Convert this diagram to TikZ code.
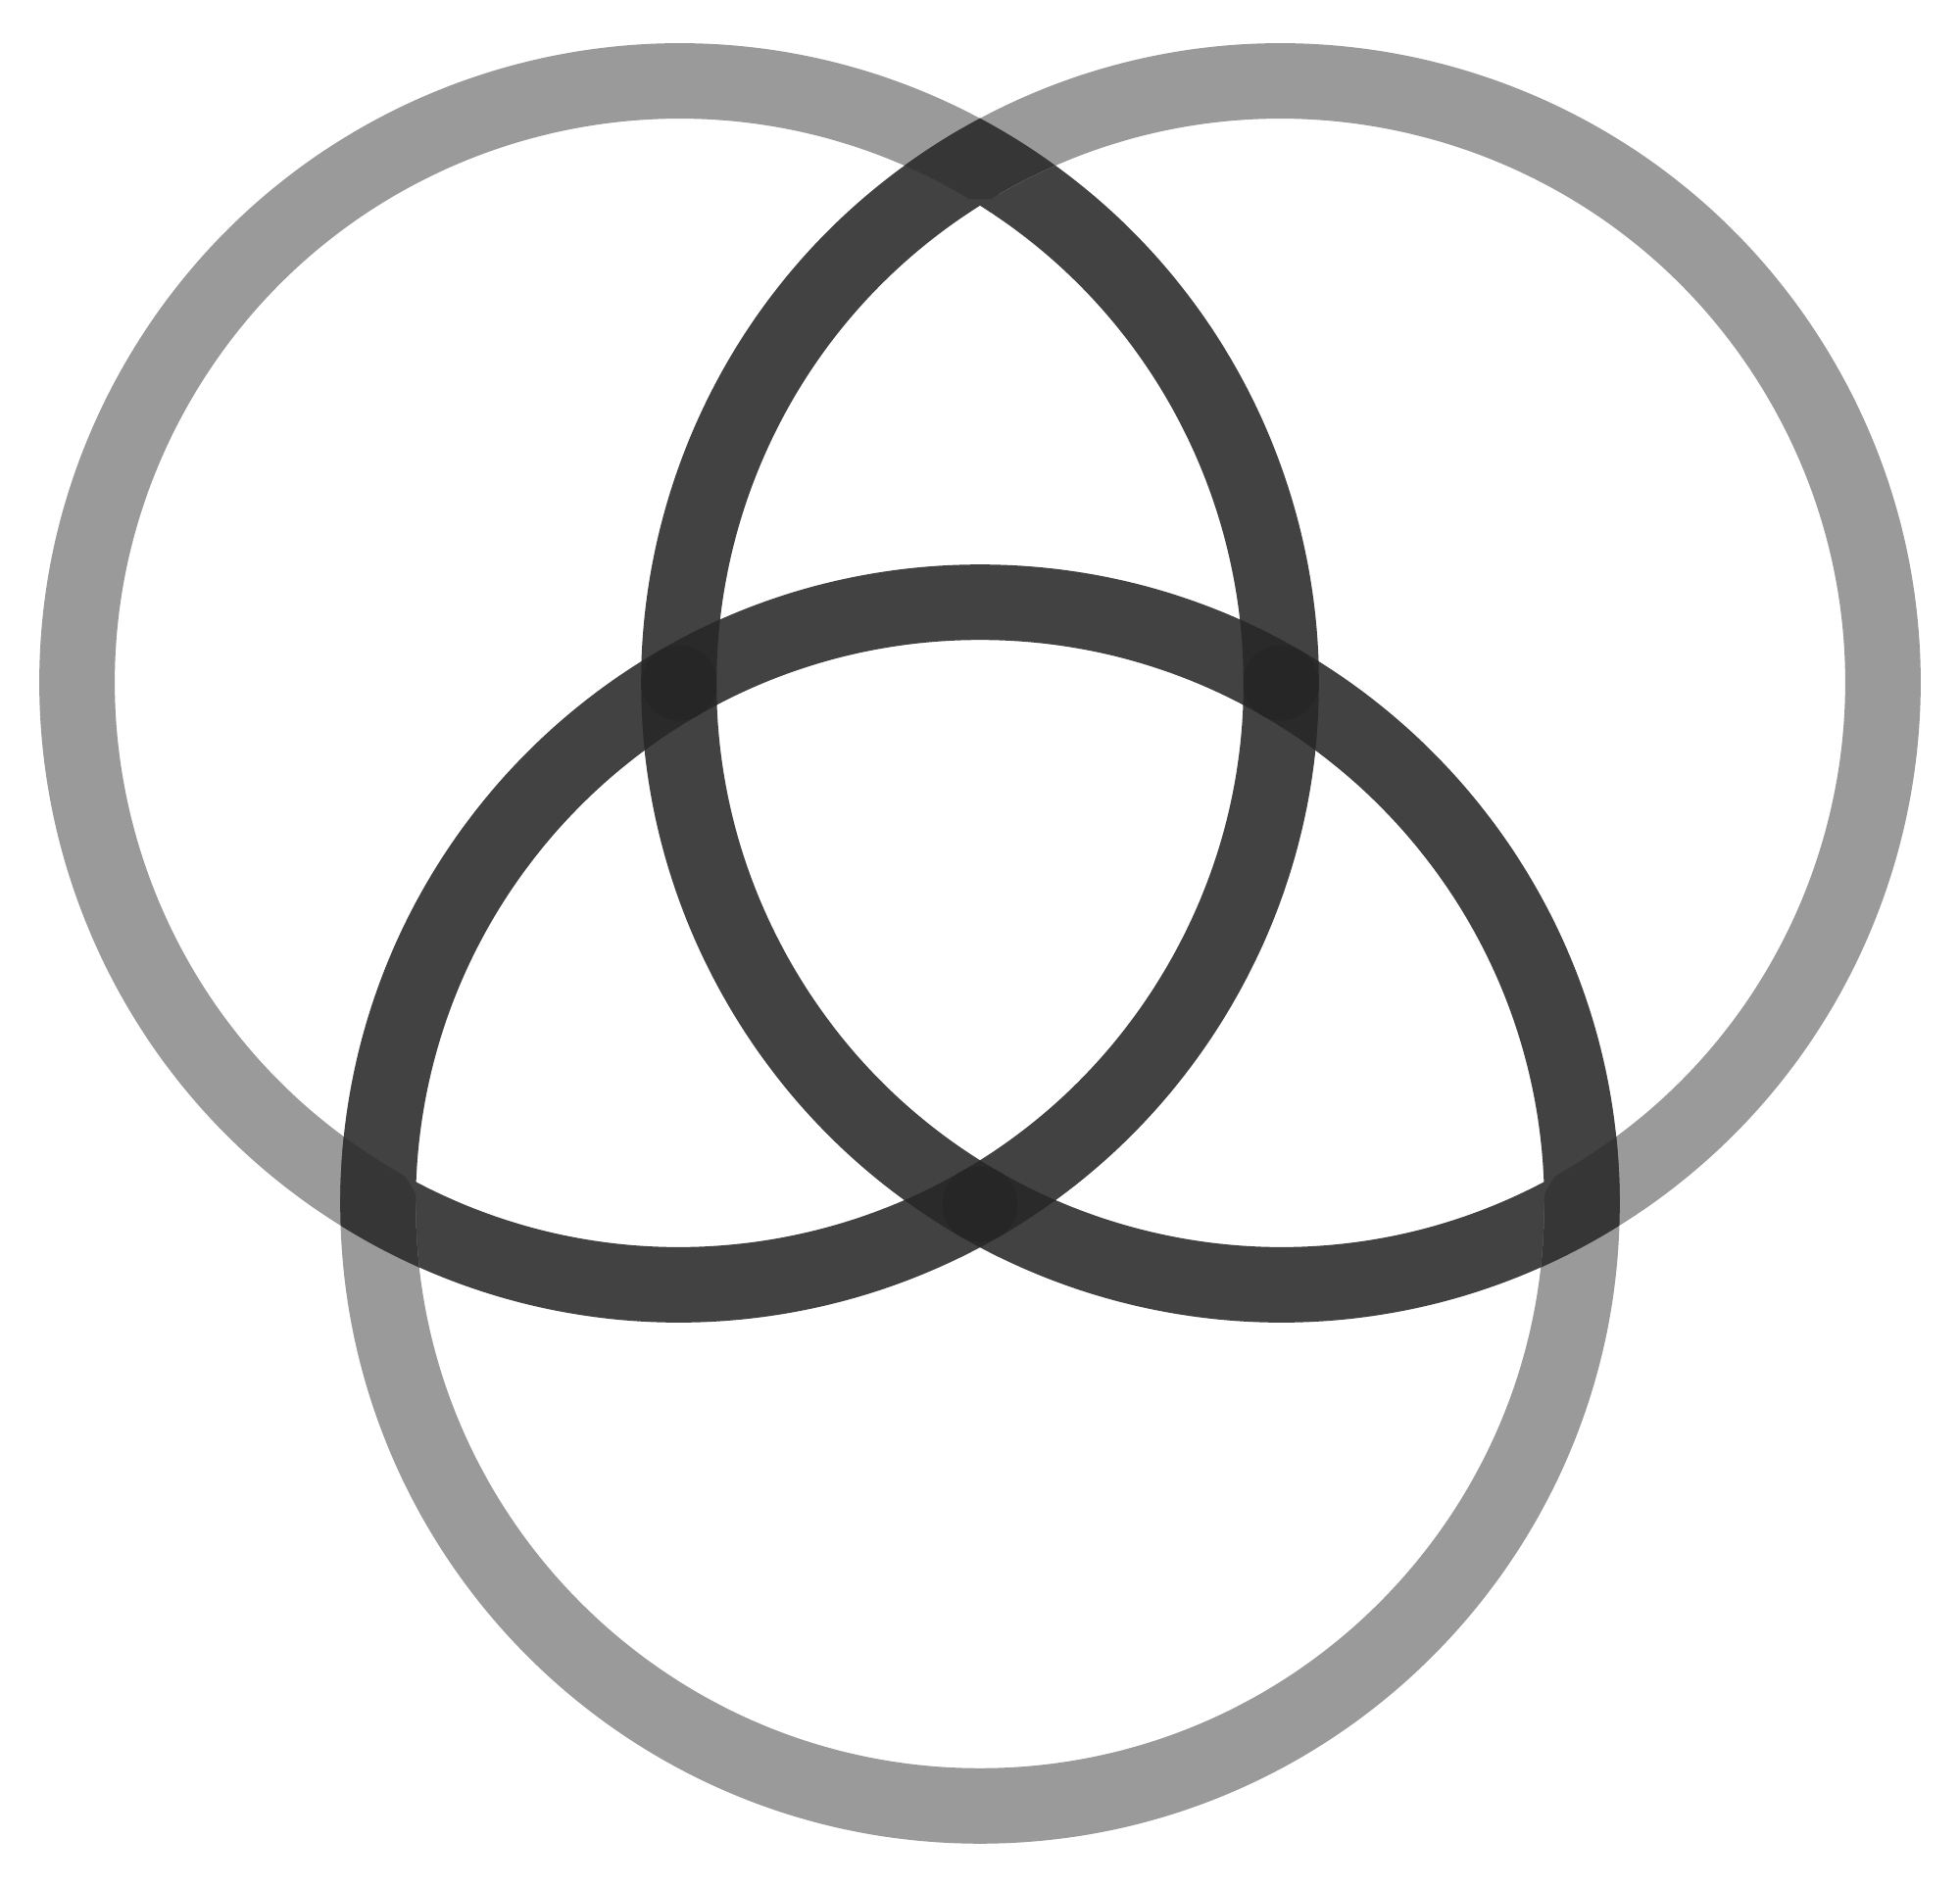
\documentclass[tikz,border=0pt]{standalone}
\usepackage{tikz}
\definecolor{ringlight}{HTML}{9A9A9A}
\definecolor{ringdark}{HTML}{424242}
\definecolor{ringcross}{HTML}{363636}
\definecolor{ringknot}{HTML}{2A2A2A}
\definecolor{ringblob}{HTML}{262626}
\tikzstyle{lightarc} = [draw=ringlight, line width=0.77cm]
\tikzstyle{darkarc} = [draw=ringdark, line width=0.77cm]
\tikzstyle{crossarc} = [draw=ringcross, line width=0.77cm]
\tikzstyle{knotarc} = [draw=ringknot, line width=0.77cm]

\begin{document}
\begin{tikzpicture}
    \useasboundingbox (0,0) rectangle (20,19.26);
    \def\r{6.143}
    \def\w{0.385}
    \coordinate (left) at (6.93,12.29);
    \coordinate (right) at (13.07,12.29);
    \coordinate (bottom) at (10,6.97);
    \coordinate (top) at (10,17.61);
    \coordinate (farleft) at (3.857,6.97);
    \coordinate (farright) at (16.143,6.97);
    % outer halves light, inner halves dark
    \foreach \c/\a/\b in {left/60/240, right/-60/120, bottom/180/0} {
        \draw [lightarc] (\c) ++(\a:\r) arc [start angle=\a, delta angle=180, radius=\r];
        \draw [darkarc] (\c) ++(\b:\r) arc [start angle=\b, delta angle=180, radius=\r];
    }
    % crossings on the outside
    \foreach \o/\a/\b/\t in {top/left/right/90, farleft/left/bottom/210, farright/right/bottom/330} {
        \begin{scope}[even odd rule]
            \clip (\o) ++(\t:0.815) circle [radius=1.2];
            \clip (\a) circle [radius=\r+\w] (\a) circle [radius=\r-\w];
            \draw [crossarc] (\b) circle [radius=\r];
        \end{scope}
    }
    % crossings in the middle
    \foreach \o/\a/\b in {left/right/bottom, right/left/bottom, bottom/left/right} {
        \begin{scope}[even odd rule]
            \clip (\o) circle [radius=1.2];
            \clip (\a) circle [radius=\r+\w] (\a) circle [radius=\r-\w];
            \draw [knotarc] (\b) circle [radius=\r];
            \clip (\b) circle [radius=\r+\w] (\b) circle [radius=\r-\w];
            \fill [ringblob] (\o) circle [radius=\w];
        \end{scope}
    }
\end{tikzpicture}
\end{document}
